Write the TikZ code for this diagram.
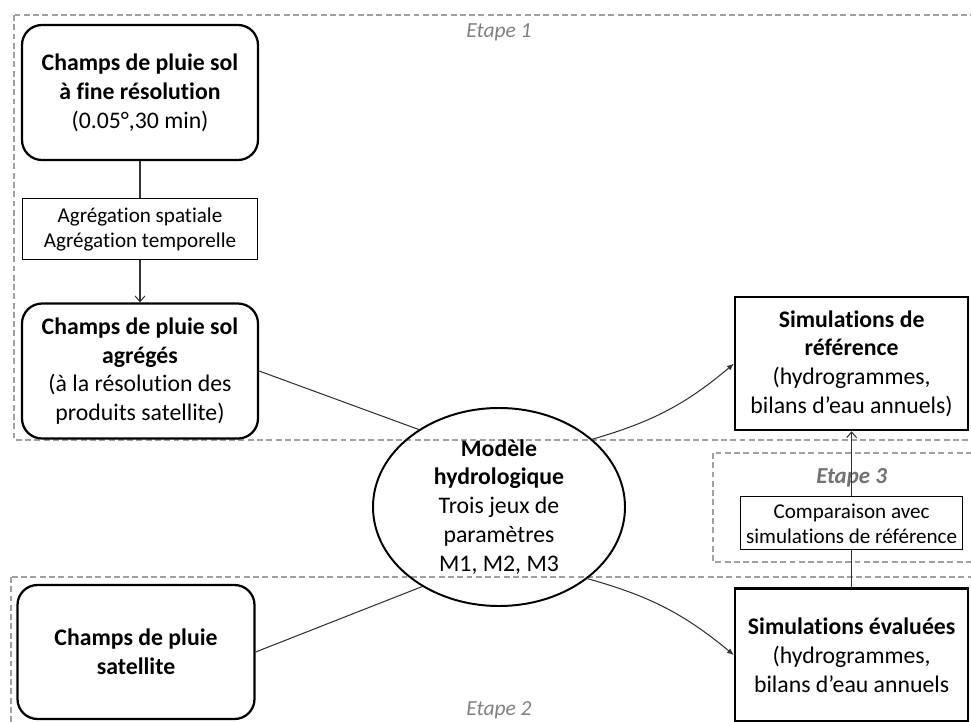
\documentclass[tikz,border=0pt]{standalone}
\usepackage{fontspec}
\setmainfont{Carlito}[Ligatures=NoCommon]
\usetikzlibrary{arrows.meta,shapes.geometric,positioning}
\definecolor{stagegray}{RGB}{160,160,160}
\definecolor{labelgray}{RGB}{128,128,128}
\newcommand{\rainfont}{\fontsize{16.9}{20.5}\selectfont}
\newcommand{\notefont}{\fontsize{15}{17.8}\selectfont}
\newcommand{\etapefont}{\fontsize{15.3}{18}\selectfont}
\tikzset{every picture/.style={line width=0.7pt}}
\tikzset{
    rainbox/.style={draw, line width=1.6pt, rounded corners=0.5cm, align=center,
        minimum width=5.9cm, minimum height=3.375cm, inner sep=2pt, font=\rainfont},
    simbox/.style={draw, line width=1.6pt, align=center,
        minimum width=5.825cm, minimum height=3.325cm, inner sep=2pt, font=\rainfont},
    notebox/.style={draw, line width=0.9pt, align=center, inner sep=2pt, font=\notefont},
    modelnode/.style={ellipse, draw, line width=1.4pt, align=center, inner sep=0pt,
        minimum width=6.3cm, minimum height=4.95cm, font=\rainfont},
    stage/.style={draw=stagegray, line width=1.3pt, dash pattern=on 4.2pt off 2.4pt},
    stagelabel/.style={text=labelgray, font=\etapefont\itshape, inner sep=1pt},
    link/.style={draw=black!80, line width=0.75pt},
    openarrow/.style={-{Straight Barb[length=4pt,width=7pt]}},
    fillarrow/.style={-{Latex[length=5pt,width=4pt]}},
}

\begin{document}
\begin{tikzpicture}
    \useasboundingbox (0,0) rectangle (24.275,-18.05);
    \clip (0,0) rectangle (24.275,-18.05);

    \draw[stage] (0.35,-0.375) rectangle (24.6,-11.0);
    \draw[stage] (0.275,-14.425) rectangle (24.6,-18.6);
    \draw[stage] (17.825,-11.325) rectangle (24.6,-14.05);

    \node[rainbox] (finefield) at (3.5,-2.3125)
        {\textbf{Champs de pluie sol}\\\textbf{à fine résolution}\\(0.05°,30 min)};
    \node[notebox, minimum width=5.875cm, minimum height=1.525cm, below=0.925cm of finefield] (aggreg)
        {Agrégation spatiale\\Agrégation temporelle};
    \node[rainbox, below=1.05cm of aggreg] (aggfield)
        {\textbf{Champs de pluie sol}\\\textbf{agrégés}\\(à la résolution des\\produits satellite)};
    \node[rainbox, minimum width=5.925cm, minimum height=3.35cm] (satfield) at (3.4,-16.3)
        {\textbf{Champs de pluie}\\\textbf{satellite}};

    \node[modelnode] (model) at (12.475,-12.675)
        {\textbf{Modèle}\\\textbf{hydrologique}\\Trois jeux de\\paramètres\\M1, M2, M3};

    \node[simbox] (simref) at (21.29,-9.09)
        {\textbf{Simulations de}\\\textbf{référence}\\(hydrogrammes,\\bilans d’eau annuels)};
    \node[notebox, minimum width=5.55cm, minimum height=1.325cm, below=1.625cm of simref] (compare)
        {Comparaison avec\\simulations de référence};
    \node[simbox, below=0.925cm of compare] (simeval)
        {\textbf{Simulations évaluées}\\(hydrogrammes,\\bilans d’eau annuels};

    \node[stagelabel] (etape1) at (12.475,-0.8) {Etape 1};
    \node[stagelabel] (etape2) at (12.475,-17.75) {Etape 2};
    \node[stagelabel, fill=white, text=labelgray!90!black, font=\fontsize{16.3}{19}\selectfont\bfseries\itshape,
        minimum width=2.25cm, minimum height=0.78cm, above=0.05cm of compare] (etape3) {Etape 3};

    \draw[link] (finefield) -- (aggreg);
    \draw[link, openarrow] (aggreg) -- (aggfield);
    \draw[link] (aggfield.east) -- (model.136);
    \draw[link] (satfield.east) -- (model.226);
    \draw[link, fillarrow] (model.36) to[bend right=12] (simref.west);
    \draw[link, fillarrow] (model.-39) to[bend left=12] (simeval.west);
    \draw[link, openarrow] (compare) -- (simref);
    \draw[link] (compare) -- (simeval);
\end{tikzpicture}
\end{document}
